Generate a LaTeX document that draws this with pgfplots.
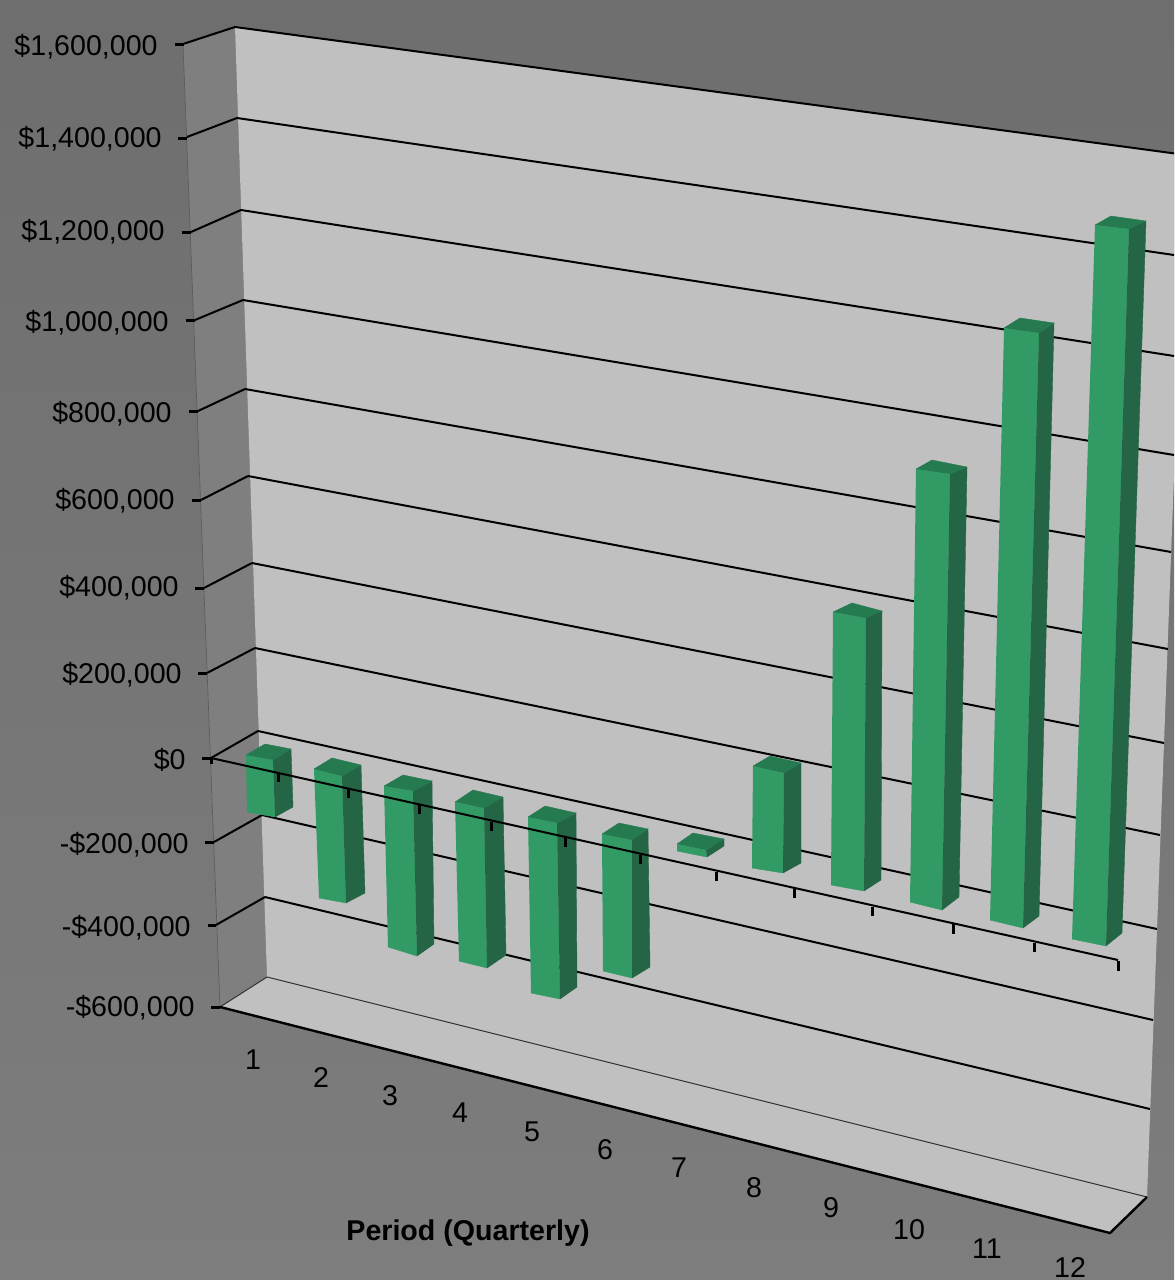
\documentclass[border=0pt]{standalone}
\usepackage{fontspec}
\setmainfont{Liberation Sans}
\usepackage{pgfplots}
\pgfplotsset{compat=1.18}

\definecolor{wallback}{HTML}{C0C0C0}
\definecolor{wallside}{HTML}{7F7F7F}
\definecolor{barfront}{HTML}{329B65}
\definecolor{barside}{HTML}{236545}
\definecolor{bartop}{HTML}{257A50}
\definecolor{bgtop}{HTML}{6E6E6E}
\definecolor{bgbottom}{HTML}{7D7D7D}

% the chart is in perspective, so the axis runs in picture pixels (y down)
\newcommand{\qbar}[3]{%
  \addplot[fill=barfront,draw=barfront,line width=0.2pt] coordinates {#1};
  \addplot[fill=barside,draw=barside,line width=0.2pt] coordinates {#2};
  \addplot[fill=bartop,draw=bartop,line width=0.2pt] coordinates {#3};
}
\newcommand{\gridl}[4]{\addplot[black,line width=1pt] coordinates {(#1,#2) (#3,#4)};}
\newcommand{\tk}[4]{\addplot[black,line width=1.5pt] coordinates {(#1,#2) (#3,#4)};}
\newcommand{\ylab}[3]{\node[anchor=base east,inner sep=0pt] at (axis cs:#1,#2) {#3};}
\newcommand{\xlab}[3]{\node[anchor=center,inner sep=0pt] at (axis cs:#1,#2) {#3};}

\begin{document}
\begin{tikzpicture}
\begin{axis}[
    width=587pt, height=640pt, scale only axis,
    xmin=0, xmax=1174, ymin=0, ymax=1280, y dir=reverse,
    xtick=\empty, ytick=\empty,
    axis line style={draw=none},
    axis background/.style={top color=bgtop,bottom color=bgbottom},
    no markers,
  ]
  % walls and floor
  \addplot[fill=wallside,draw=none] coordinates {(183,44) (235,27) (267,977) (220,1007)};
  \addplot[fill=wallback,draw=none] coordinates {(235,27) (1186,155) (1147,1197) (267,977)};
  \addplot[fill=wallback,draw=none] coordinates {(267,977) (1147,1197) (1110,1233) (220,1007)};
  \addplot[black!65,line width=0.3pt] coordinates {(183,44) (220,1007)};

  % gridlines on the back wall, $1,600,000 down to -$400,000
  \gridl{235}{27}{1186}{155}
  \gridl{237}{118}{1174}{255}
  \gridl{241}{210}{1174}{356}
  \gridl{243}{300}{1174}{455}
  \gridl{245}{389}{1171}{552}
  \gridl{248}{476}{1168}{649}
  \gridl{252}{563}{1164}{743}
  \gridl{255}{648}{1160}{835}
  \gridl{258}{731}{1157}{929}
  \gridl{262}{815}{1153}{1020}
  \gridl{265}{897}{1150}{1109}
  \addplot[black!80,line width=0.5pt] coordinates {(267,977) (1147,1197)};

  % gridlines on the side wall
  \gridl{183}{44}{235}{27}
  \gridl{187}{137}{237}{118}
  \gridl{191}{232}{241}{210}
  \gridl{195}{320}{243}{300}
  \gridl{198}{411}{245}{389}
  \gridl{201}{500}{248}{476}
  \gridl{204}{588}{252}{563}
  \gridl{207}{673}{255}{648}
  \gridl{211}{758}{258}{731}
  \gridl{214}{842}{262}{815}
  \gridl{216}{925}{265}{897}
  \addplot[black!80,line width=0.5pt] coordinates {(220,1007) (267,977)};

  % floor edges
  \addplot[black,line width=1.2pt] coordinates {(220,1007) (1110,1233) (1147,1197)};

  % value ticks
  \tk{175}{44}{184}{44}
  \tk{178}{138}{187}{138}
  \tk{182}{232}{191}{232}
  \tk{186}{320}{195}{320}
  \tk{189}{411}{198}{411}
  \tk{192}{500}{201}{500}
  \tk{195}{588}{204}{588}
  \tk{198}{673}{207}{673}
  \tk{202}{758}{211}{758}
  \tk{205}{842}{214}{842}
  \tk{208}{925}{216}{925}
  \tk{211}{1007}{220}{1007}

  % bars, period 1 to 12: front, side, top
  \qbar{(246,755) (273,760) (275,817) (247,812)}{(273,760) (291,749) (293,807) (275,817)}{(246,755) (265,744) (291,749) (273,760)}
  \qbar{(314,769) (342,776) (346,903) (319,898)}{(342,776) (361,765) (365,893) (346,903)}{(314,769) (332,758) (361,765) (342,776)}
  \qbar{(384,786) (413,791) (417,956) (388,947)}{(413,791) (432,781) (434,944) (417,956)}{(384,786) (403,775) (432,781) (413,791)}
  \qbar{(455,802) (484,808) (487,968) (459,961)}{(484,808) (503,797) (506,955) (487,968)}{(455,802) (473,790) (503,797) (484,808)}
  \qbar{(528,817) (557,823) (560,999) (531,993)}{(557,823) (576,813) (577,987) (560,999)}{(528,817) (545,806) (576,813) (557,823)}
  \qbar{(602,834) (632,840) (632,978) (603,971)}{(632,840) (648,829) (650,967) (632,978)}{(602,834) (619,823) (648,829) (632,840)}
  \qbar{(677,844) (706,850) (707,857) (677,851)}{(706,850) (724,839) (724,846) (707,857)}{(677,844) (693,833) (724,839) (706,850)}
  \qbar{(753,766) (784,773) (783,873) (752,868)}{(784,773) (801,763) (801,863) (783,873)}{(753,766) (770,756) (801,763) (784,773)}
  \qbar{(833,612) (866,618) (864,891) (831,885)}{(866,618) (882,611) (881,880) (864,891)}{(833,612) (852,603) (882,611) (866,618)}
  \qbar{(916,469) (950,474) (942,910) (910,902)}{(950,474) (967,467) (959,897) (942,910)}{(916,469) (932,460) (967,467) (950,474)}
  \qbar{(1004,328) (1039,333) (1023,928) (990,920)}{(1039,333) (1054,323) (1039,916) (1023,928)}{(1004,328) (1020,318) (1054,323) (1039,333)}
  \qbar{(1095,225) (1129,229) (1106,946) (1072,939)}{(1129,229) (1146,221) (1122,933) (1106,946)}{(1095,225) (1111,216) (1146,221) (1129,229)}

  % zero line in front of the bars, with the period ticks
  \gridl{211}{758}{1118}{960}
  \tk{278}{773}{278}{782}
  \tk{348}{789}{348}{798}
  \tk{419}{805}{419}{814}
  \tk{491}{822}{491}{831}
  \tk{565}{837}{565}{847}
  \tk{640}{855}{640}{864}
  \tk{716}{872}{716}{881}
  \tk{794}{889}{794}{898}
  \tk{872}{907}{872}{916}
  \tk{953}{924}{953}{934}
  \tk{1034}{943}{1034}{952}
  \tk{1118}{961}{1118}{971}
  \tk{211}{758}{211}{764}

  % value labels
  \fontsize{14.3pt}{16pt}\selectfont
  \ylab{158}{55}{\$1,600,000}
  \ylab{162}{147}{\$1,400,000}
  \ylab{165}{240}{\$1,200,000}
  \ylab{169}{331}{\$1,000,000}
  \ylab{172}{422}{\$800,000}
  \ylab{175}{509}{\$600,000}
  \ylab{179}{596}{\$400,000}
  \ylab{182}{683}{\$200,000}
  \ylab{186}{769}{\$0}
  \ylab{189}{853}{-\$200,000}
  \ylab{191}{936}{-\$400,000}
  \ylab{195}{1016}{-\$600,000}

  % period labels
  \xlab{253}{1060}{1}
  \xlab{321}{1078}{2}
  \xlab{390}{1096}{3}
  \xlab{460}{1113}{4}
  \xlab{532}{1132}{5}
  \xlab{605}{1150}{6}
  \xlab{679}{1168}{7}
  \xlab{754}{1188}{8}
  \xlab{831}{1208}{9}
  \xlab{909}{1230}{10}
  \xlab{987}{1249}{11}
  \node[anchor=base,inner sep=0pt] at (axis cs:1070,1277) {12};
  \node[anchor=center,inner sep=0pt,font=\bfseries\fontsize{14.3pt}{16pt}\selectfont] at (axis cs:468,1233) {Period (Quarterly)};
\end{axis}
\end{tikzpicture}
\end{document}
